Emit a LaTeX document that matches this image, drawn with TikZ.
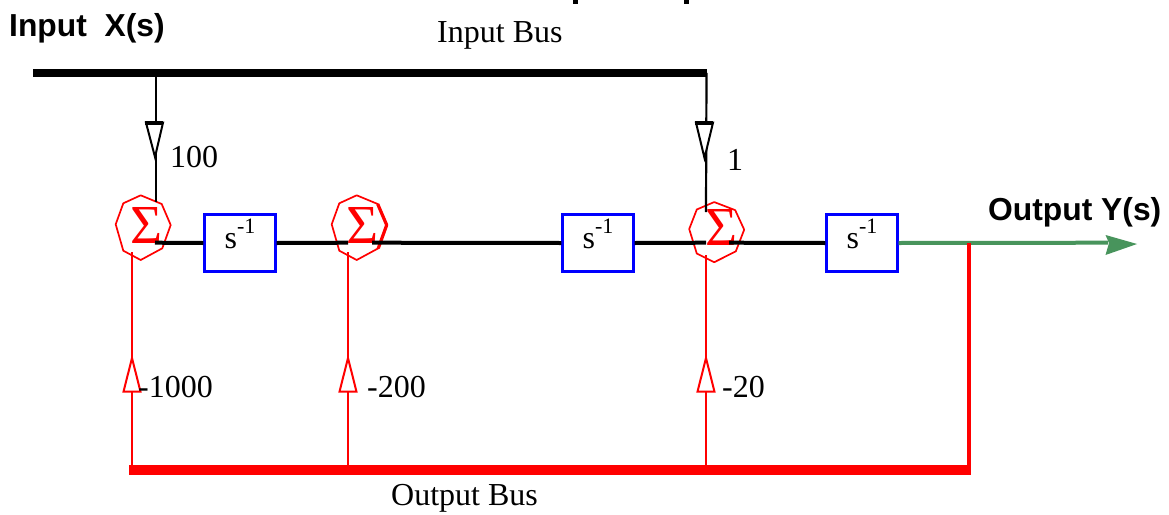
\documentclass[tikz,border=0pt]{standalone}
\usepackage{fontspec}
\setmainfont{Liberation Serif}
\newfontfamily\headfont{Liberation Sans}[Scale=1]
\usetikzlibrary{calc}
\definecolor{busgreen}{RGB}{72,148,92}
\tikzset{
  serif/.style={anchor=base west,inner sep=0pt,font=\fontsize{32}{33}\selectfont},
  head/.style={anchor=base west,inner sep=0pt,font=\headfont\bfseries\fontsize{31.8}{33}\selectfont},
  delay/.style={draw=blue,line width=2.4pt,fill=white,minimum width=71pt,minimum height=57pt,inner sep=0pt,
    text height=15pt,text depth=5pt,font=\fontsize{32}{33}\selectfont},
  sigma/.style={inner sep=0pt,text=red,font=\fontsize{55}{56}\selectfont},
  ring/.style={draw=red,line width=1.7pt,line join=round},
  signal/.style={draw=black,line width=4pt},
  tap/.style={draw=black,line width=2.2pt},
  fb/.style={draw=red,line width=2.2pt},
  gainb/.style={draw=black,line width=2pt,fill=white},
  gainr/.style={draw=red,line width=2pt,fill=white},
}
\newcommand{\sumring}[3][1]{%
  \draw[ring,shift={(#2,#3)},yscale=#1] (-2.3,-32.2) -- (18.7,-23.5) -- (27.7,-2.5) -- (19.3,20.8)
    -- (-2.3,32.5) -- (-19.7,23.2) -- (-27.3,-3.2) -- (-19.7,-24.2) -- cycle;}
\newcommand{\esup}{\raisebox{15pt}{\fontsize{22}{22}\selectfont -1}}
\begin{document}
\begin{tikzpicture}[x=1pt,y=-1pt]
\useasboundingbox (0,0) rectangle (1169,514);
\fill[white] (0,0) rectangle (1169,514);
% clipped fragments of the title at the top edge
\fill[black] (573,0) rectangle (578,4);
\fill[black] (684,0) rectangle (689,4);

% junction points
\coordinate (busL) at (33,72.8);
\coordinate (busT1) at (156,72.8);
\coordinate (busR) at (706.5,72.8);
\coordinate (in1) at (156,202);
\coordinate (in2) at (706,212);
\coordinate (s1e) at (155,242.7);
\coordinate (s2w) at (348,242.7);
\coordinate (s2e) at (372,242.7);
\coordinate (s3w) at (706,242.7);
\coordinate (s3e) at (729,242.7);
\coordinate (tapY) at (969,242.7);
\coordinate (outEnd) at (1108,242.7);
\coordinate (f1t) at (132,252);
\coordinate (f2t) at (348,252);
\coordinate (f3t) at (706,255);
\coordinate (f1b) at (132,466);
\coordinate (f2b) at (348,466);
\coordinate (f3b) at (706,466);
\coordinate (obL) at (129,470);
\coordinate (obR) at (971,470);

% rings and sigma marks
\sumring{143}{227.5}
\sumring{359}{227.5}
\sumring[0.93]{716.5}{232}
\draw[ring,line width=3.2pt] (377.7,204) -- (386.7,225) -- (378.3,248.3);
\node[sigma] (sum1) at (147,225) {Σ};
\node[sigma] (sum2) at (363,225) {Σ};
\node[sigma] (sum3) at (721,227) {Σ};

% delays
\node[delay] (d1) at (240,243) {s\esup};
\node[delay] (d2) at (598,243) {s\esup};
\node[delay] (d3) at (862,243) {s\esup};

% buses
\draw[line width=7.5pt,black] (busL) -- (busR);
\draw[line width=10pt,red] (obL) -- (obR);

% input taps with gain triangles
\draw[tap] (busT1) -- (in1);
\draw[tap] (busR) -- (in2);
\draw[gainb] (146,122.7) -- (163,122.7) -- (155,157) -- cycle;
\draw[black,line width=4pt] (145,122.7) -- (163,122.7);
\draw[gainb] (696,122.7) -- (713,122.7) -- (704.5,158) -- cycle;
\draw[black,line width=4pt] (695,122.7) -- (713,122.7);

% forward path
\draw[signal] (s1e) -- (d1.west);
\draw[signal] (d1.east) -- (s2w);
\draw[signal] (s2e) -- (d2.west);
\draw[signal] (d2.east) -- (s3w);
\draw[signal] (s3e) -- (d3.west);

% feedback
\draw[fb] (f1b) -- (f1t);
\draw[fb] (f2b) -- (f2t);
\draw[fb] (f3b) -- (f3t);
\draw[gainr] (123.5,391.7) -- (140.5,391.7) -- (132,358) -- cycle;
\draw[gainr] (339.5,391.7) -- (356.5,391.7) -- (348,358) -- cycle;
\draw[gainr] (697.5,391.7) -- (714.5,391.7) -- (706,358) -- cycle;

% output
\draw[line width=4pt,busgreen] (d3.east) -- (outEnd);
\fill[busgreen] (1105.5,235) -- (1137,244) -- (1105.5,255) -- (1109,243) -- cycle;
\draw[line width=4.5pt,red] (tapY) -- (969,470);

% labels
\node[head] (lin) at (9,36) {Input\ \ X(s)};
\node[head] (lout) at (988,220) {Output Y(s)};
\node[serif] (lib) at (437,42) {Input Bus};
\node[serif] (lob) at (391,505) {Output Bus};
\node[serif] (g100) at (170,167) {100};
\node[serif] (g1) at (727,170) {1};
\node[serif] (g1000) at (138,397) {-1000};
\node[serif] (g200) at (367,397) {-200};
\node[serif] (g20) at (722,397) {-20};
\end{tikzpicture}
\end{document}
